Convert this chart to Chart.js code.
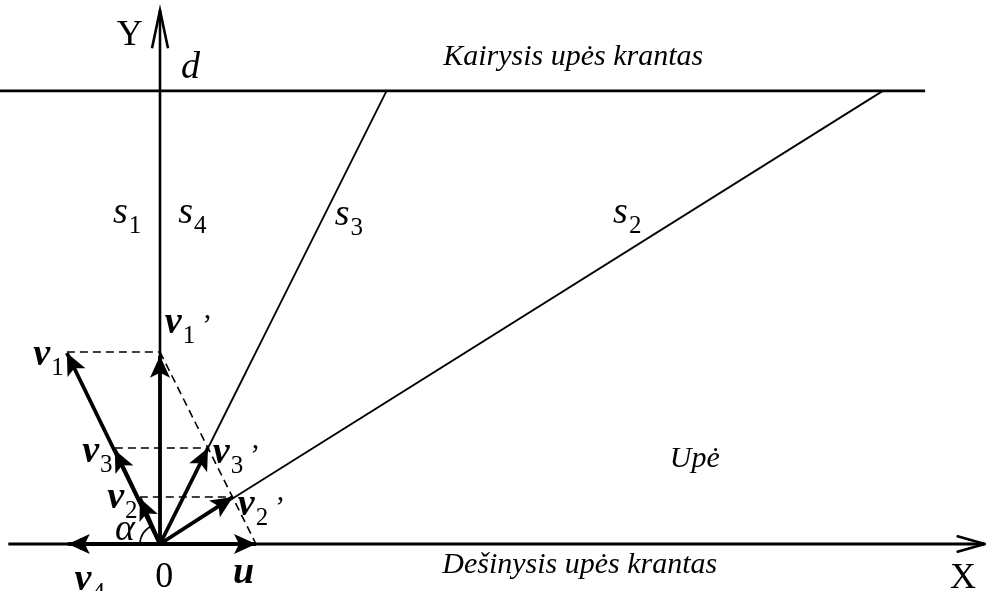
<!DOCTYPE html>
<html>
<head>
<meta charset="utf-8">
<script src="https://cdn.jsdelivr.net/npm/chart.js@4.4.1/dist/chart.umd.min.js"></script>
<style>
  body { margin: 0; background: #fff; }
  #wrap { width: 986px; height: 591px; }
</style>
</head>
<body>
<div id="wrap"><canvas id="riverChart"></canvas></div>
<script>
// --- DATA (units: |u| = 1) ---
const bankY = 4.72;                       // d, left bank
const xAxisEnds = [[-1.58, 0], [8.59, 0]];
const yAxisEnds = [[0, 0], [0, 5.56]];
const leftBankEnds = [[-1.67, bankY], [7.97, bankY]];
const s3Top = [2.36, bankY];
const s2Top = [7.53, bankY];

// velocity vectors from the origin
const vecNames = ['u', 'v4', 'v1', 'v1p', 'v3', 'v3p', 'v2', 'v2p'];
const vecX = [1.00, -0.96, -0.97, 0.00, -0.47, 0.50, -0.21, 0.76];
const vecY = [0.00, 0.00, 1.99, 1.96, 0.98, 1.00, 0.48, 0.49];

// dashed construction lines
const dashFrom = [[-0.97, 2.00], [-0.47, 1.00], [-0.21, 0.49], [0.00, 2.00]];
const dashTo = [[0.00, 2.00], [0.50, 1.00], [0.76, 0.49], [1.00, 0.00]];

// labels: text, subscript, prime, anchor x, anchor y, font
const labels = [
  ['Y', '', false, -0.45, 5.20, 'n'],
  ['d', '', false, 0.22, 4.85, 'i'],
  ['Kairysis upės krantas', '', false, 2.95, 4.99, 'it'],
  ['Dešinysis upės krantas', '', false, 2.94, -0.30, 'it'],
  ['Upė', '', false, 5.31, 0.80, 'it'],
  ['X', '', false, 8.23, -0.46, 'n'],
  ['s', '1', false, -0.49, 3.34, 'i'],
  ['s', '4', false, 0.19, 3.34, 'i'],
  ['s', '3', false, 1.82, 3.32, 'i'],
  ['s', '2', false, 4.72, 3.34, 'i'],
  ['v', '1', true, 0.05, 2.20, 'b'],
  ['v', '1', false, -1.32, 1.86, 'b'],
  ['v', '3', false, -0.81, 0.85, 'b'],
  ['v', '3', true, 0.55, 0.84, 'b'],
  ['v', '2', false, -0.55, 0.375, 'b'],
  ['v', '2', true, 0.81, 0.30, 'b'],
  ['α', '', false, -0.47, 0.04, 'i'],
  ['0', '', false, -0.05, -0.45, 'n'],
  ['u', '', false, 0.76, -0.41, 'b'],
  ['v', '4', false, -0.89, -0.48, 'b']
];

const SERIF = '"Liberation Serif", "Times New Roman", serif';
const fonts = {
  n: '36px ' + SERIF,
  i: 'italic 38px ' + SERIF,
  it: 'italic 30px ' + SERIF,
  b: 'italic bold 38px ' + SERIF
};

// --- DATASETS ---
function seg(a, b, w, dash, extra) {
  return Object.assign({
    data: [{ x: a[0], y: a[1] }, { x: b[0], y: b[1] }],
    showLine: true,
    borderColor: '#000',
    borderWidth: w,
    borderDash: dash || [],
    pointRadius: 0,
    fill: false
  }, extra || {});
}

const datasets = [];
datasets.push(seg(xAxisEnds[0], xAxisEnds[1], 2.8, null, { openHead: [28, 8] }));
datasets.push(seg(yAxisEnds[0], yAxisEnds[1], 2.6, null, { openHead: [38, 8] }));
datasets.push(seg(leftBankEnds[0], leftBankEnds[1], 2.6));
datasets.push(seg([0, 0], s3Top, 1.8));
datasets.push(seg([0, 0], s2Top, 1.8));
for (let i = 0; i < dashFrom.length; i++) {
  datasets.push(seg(dashFrom[i], dashTo[i], 1.6, [8, 5]));
}
for (let i = 0; i < vecNames.length; i++) {
  datasets.push(seg([0, 0], [vecX[i], vecY[i]], 3.8, null, { head: true }));
}

// --- ARROWS, ANGLE, LABELS ---
const diagramPlugin = {
  id: 'diagram',
  afterDatasetsDraw(chart) {
    const ctx = chart.ctx;
    const xs = chart.scales.x, ys = chart.scales.y;
    ctx.save();
    ctx.fillStyle = '#000';
    ctx.strokeStyle = '#000';

    chart.data.datasets.forEach((ds, i) => {
      if (!ds.head && !ds.openHead) return;
      const pts = chart.getDatasetMeta(i).data;
      const x0 = pts[0].x, y0 = pts[0].y, x1 = pts[1].x, y1 = pts[1].y;
      const a = Math.atan2(y1 - y0, x1 - x0);
      ctx.save();
      ctx.translate(x1, y1);
      ctx.rotate(a);
      ctx.beginPath();
      if (ds.head) {
        ctx.moveTo(0, 0);
        ctx.lineTo(-22, 10);
        ctx.lineTo(-17, 0);
        ctx.lineTo(-22, -10);
        ctx.closePath();
        ctx.fill();
      } else {
        const [len, hw] = ds.openHead;
        ctx.lineWidth = 2.6;
        ctx.moveTo(-len, hw);
        ctx.lineTo(0, 0);
        ctx.lineTo(-len, -hw);
        ctx.stroke();
      }
      ctx.restore();
    });

    // angle alpha between -x axis and v2
    const ox = xs.getPixelForValue(0), oy = ys.getPixelForValue(0);
    const v2 = vecNames.indexOf('v2');
    const ang = Math.atan2(ys.getPixelForValue(vecY[v2]) - oy, xs.getPixelForValue(vecX[v2]) - ox);
    ctx.beginPath();
    ctx.lineWidth = 1.6;
    ctx.arc(ox, oy, 20, Math.PI, ang + 2 * Math.PI);
    ctx.stroke();

    // texts
    ctx.textBaseline = 'alphabetic';
    ctx.textAlign = 'left';
    labels.forEach(([txt, sub, prime, lx, ly, f]) => {
      let px = xs.getPixelForValue(lx), py = ys.getPixelForValue(ly);
      ctx.font = fonts[f];
      ctx.fillText(txt, px, py);
      let end = px + ctx.measureText(txt).width;
      if (sub) {
        ctx.font = '25px ' + SERIF;
        ctx.fillText(sub, end + 1, py + 10);
        end += 1 + ctx.measureText(sub).width;
      }
      if (prime) {
        ctx.font = '30px ' + SERIF;
        ctx.fillText('\u2019', end + 7, py + 1);
      }
    });
    ctx.restore();
  }
};

new Chart(document.getElementById('riverChart'), {
  type: 'scatter',
  data: { datasets: datasets },
  options: {
    responsive: true,
    maintainAspectRatio: false,
    animation: false,
    events: [],
    layout: { padding: 0 },
    plugins: { legend: { display: false }, tooltip: { enabled: false } },
    scales: {
      x: { type: 'linear', min: -1.6667, max: 8.6042, display: false },
      y: { type: 'linear', min: -0.4896, max: 5.6667, display: false }
    }
  },
  plugins: [diagramPlugin]
});
</script>
</body>
</html>
